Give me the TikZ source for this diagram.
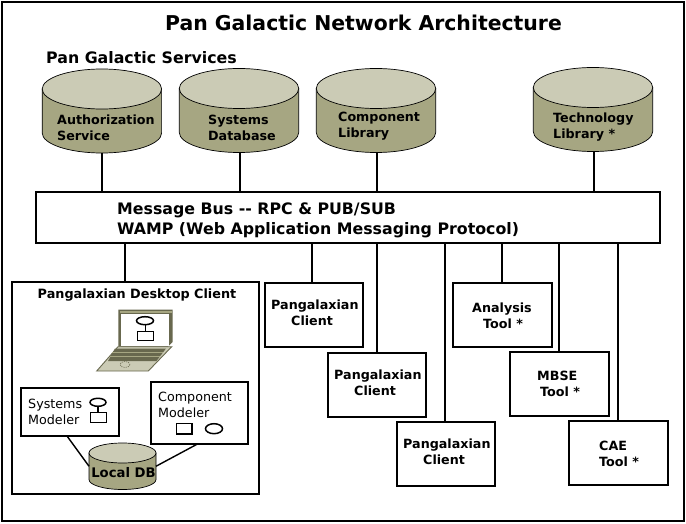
\documentclass[tikz,border=0pt]{standalone}
\usepackage{fontspec}
\setmainfont{DejaVu Sans}
\definecolor{cyltop}{RGB}{203,203,181}
\definecolor{cylbody}{RGB}{166,166,130}
\definecolor{lapdark}{RGB}{104,104,78}
\tikzset{
  x=1pt,y=-1pt,
  wire/.style={draw=black,line width=1.4pt},
  boxy/.style={draw=black,line width=1.6pt,fill=white,rectangle,inner sep=0,outer sep=0,anchor=north west},
  lbl/.style={font=\fontsize{12.7}{16}\selectfont\bfseries,align=left,anchor=west,inner sep=0},
  plain/.style={font=\fontsize{12.7}{16}\selectfont,align=left,anchor=west,inner sep=0},
  cylrim/.style={draw=black,line width=.7pt},
  cylbox/.style={rectangle,inner sep=0,outer sep=0,anchor=north west},
  icon/.style={draw=black,line width=1.5pt},
}
% name, left x, top y, width, height, end radius y
\newcommand{\drum}[6]{%
  \path[cylrim,fill=cylbody] (#2,#3+#6) -- (#2,#3+#5-#6) arc[start angle=180,end angle=0,x radius=#4/2,y radius=#6]
     -- (#2+#4,#3+#6) -- cycle;
  \path[cylrim,fill=cyltop] (#2+#4/2,#3+#6) ellipse[x radius=#4/2,y radius=#6];
  \node[cylbox,minimum width=#4 pt,minimum height=#5 pt] (#1) at (#2,#3) {};
}
\begin{document}
\begin{tikzpicture}
\useasboundingbox (0,0) rectangle (686,524);
\node[boxy,minimum width=682pt,minimum height=519pt] (frame) at (2,2) {};
\node[font=\fontsize{20.4}{24}\selectfont\bfseries,inner sep=0] (title) at (363.5,23) {Pan Galactic Network Architecture};
\node[font=\fontsize{15.8}{18}\selectfont\bfseries,inner sep=0,anchor=west] (svc) at (46,58) {Pan Galactic Services};
% service cylinders
\drum{auth}{42.2}{69}{119.4}{84}{20}
\drum{sysdb}{179.3}{68.5}{119.4}{84}{20}
\drum{comp}{316.3}{68.5}{119.4}{84}{20}
\drum{tech}{533.3}{67.5}{119.4}{84}{20}
\node[lbl] (authl) at (57,128) {Authorization\\Service};
\node[lbl] (sysl) at (208,128) {Systems\\Database};
\node[lbl] (compl) at (338,126.5) {Component\\Library};
\node[lbl] (techl) at (553,127) {Technology\\Library *};
% bus
\node[boxy,minimum width=624pt,minimum height=51pt] (bus) at (36,192) {};
\node[font=\fontsize{15.8}{20}\selectfont\bfseries,align=left,anchor=west,inner sep=0] (busl) at (117,220.5) {Message Bus -{}- RPC \& PUB/SUB\\WAMP (Web Application Messaging Protocol)};
% upper connectors
\draw[wire] (auth.south) -- (auth.south |- bus.north);
\draw[wire] ([xshift=1pt]sysdb.south) -- ([xshift=1pt]sysdb.south |- bus.north);
\draw[wire] ([xshift=1pt]comp.south) -- ([xshift=1pt]comp.south |- bus.north);
\draw[wire] ([xshift=1pt]tech.south) -- ([xshift=1pt]tech.south |- bus.north);
% desktop client
\node[boxy,minimum width=247pt,minimum height=212pt] (desk) at (12,282) {};
\node[font=\fontsize{12.8}{14}\selectfont\bfseries,inner sep=0] (deskl) at (137,295) {Pangalaxian Desktop Client};
% laptop
\fill[cyltop,draw=lapdark,line width=.9pt] (118,346.7) -- (171.7,346.7) -- (148.3,371) -- (96.7,371) -- cycle;
\fill[lapdark] (118.3,309.7) -- (172.7,309.7) -- (172.7,342) -- (168,346.7) -- (118.3,346.7) -- cycle;
\fill[cylbody] (119.5,311) -- (171.5,311) -- (171.5,313) -- (119.5,313) -- cycle;
\fill[white] (121,313.5) rectangle (169.3,345.5);
\fill[lapdark] (115,348.5) -- (166,348.5) -- (156.5,361) -- (108,361) -- cycle;
\draw[cylbody,line width=1.1pt] (112,352.2) -- (163,352.2);
\draw[cylbody,line width=1.1pt] (110,356.2) -- (160,356.2);
\draw[lapdark,line width=.6pt,dash pattern=on 1.2pt off 1pt] (125,364.5) ellipse [x radius=5,y radius=3];
\draw[icon] (145,320.7) ellipse [x radius=8.5,y radius=4];
\draw[icon] (145.5,324.7) -- (145.5,331.7);
\draw[icon] (137.7,331.7) rectangle (153.3,340.7);
% modelers
\node[boxy,minimum width=98pt,minimum height=48pt] (sm) at (21,388) {};
\node[plain] (sml) at (28,412) {Systems\\Modeler};
\draw[icon] (98,402.3) ellipse [x radius=8,y radius=4];
\draw[icon] (98,406.3) -- (98,412.7);
\draw[icon] (90.7,412.7) rectangle (106.3,422.3);
\node[boxy,minimum width=97pt,minimum height=62pt] (cm) at (151,382) {};
\node[plain] (cml) at (158,404.5) {Component\\Modeler};
\draw[icon] (176.7,423.3) rectangle (192,434);
\draw[icon] (214,428.7) ellipse [x radius=8.5,y radius=5];
% local db
\drum{ldb}{89}{443}{67}{46.5}{10}
\node[font=\fontsize{13.2}{14}\selectfont\bfseries,inner sep=0] (ldbl) at (123.5,472.5) {Local DB};
\draw[wire] ([xshift=-3pt]sm.south) -- (ldb.west);
\draw[wire] (ldb.east) -- ([xshift=-2pt]cm.south);
% clients and tools
\node[boxy,minimum width=98pt,minimum height=64pt] (c1) at (265,283) {};
\node[boxy,minimum width=98pt,minimum height=64pt] (c2) at (328,353) {};
\node[boxy,minimum width=98pt,minimum height=64pt] (c3) at (397,422) {};
\node[boxy,minimum width=99pt,minimum height=64pt] (t1) at (453,283) {};
\node[boxy,minimum width=99pt,minimum height=64pt] (t2) at (510,352) {};
\node[boxy,minimum width=99pt,minimum height=64pt] (t3) at (569,421) {};
\node[lbl] (c1l) at (271,313) {Pangalaxian\\\hspace*{20pt}Client};
\node[lbl] (c2l) at (334,383) {Pangalaxian\\\hspace*{20pt}Client};
\node[lbl] (c3l) at (403,452) {Pangalaxian\\\hspace*{20pt}Client};
\node[lbl] (t1l) at (472,315.5) {Analysis\\\hspace*{11pt}Tool *};
\node[lbl] (t2l) at (537,384) {MBSE\\\hspace*{3pt}Tool *};
\node[lbl] (t3l) at (599,454) {CAE\\Tool *};
% lower connectors
\draw[wire] (desk.north -| 125,0) -- (bus.south -| 125,0);
\draw[wire] ([xshift=-2pt]c1.north) -- ([xshift=-2pt]c1.north |- bus.south);
\draw[wire] (c2.north) -- (c2.north |- bus.south);
\draw[wire] ([xshift=-1pt]c3.north) -- ([xshift=-1pt]c3.north |- bus.south);
\draw[wire] ([xshift=-0.5pt]t1.north) -- ([xshift=-0.5pt]t1.north |- bus.south);
\draw[wire] ([xshift=-0.5pt]t2.north) -- ([xshift=-0.5pt]t2.north |- bus.south);
\draw[wire] ([xshift=-0.5pt]t3.north) -- ([xshift=-0.5pt]t3.north |- bus.south);
\end{tikzpicture}
\end{document}
